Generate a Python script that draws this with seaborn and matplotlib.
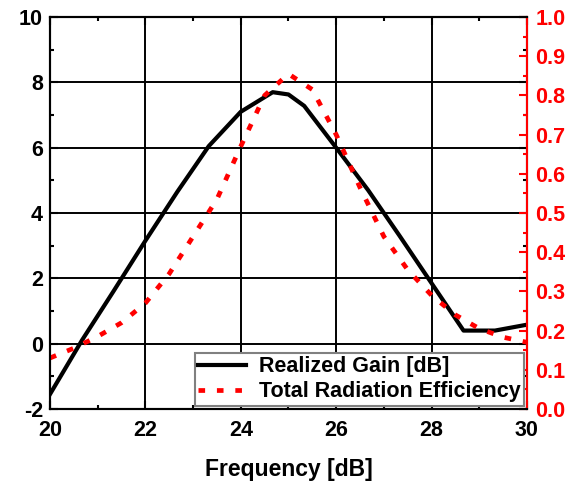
import pandas as pd
import matplotlib.pyplot as plt
import seaborn as sns
from matplotlib.ticker import MultipleLocator

plt.rcParams['font.family'] = ['Liberation Sans', 'DejaVu Sans']
plt.rcParams['font.weight'] = 'bold'
plt.rcParams['axes.unicode_minus'] = False

freq_gain = [20, 20.67, 21.33, 22, 22.67, 23.33, 24, 24.67, 25, 25.33, 26, 26.67, 27.33, 28, 28.67, 29.33, 30]
gain = [-1.55, 0.1, 1.6, 3.15, 4.65, 6.05, 7.1, 7.7, 7.63, 7.28, 6.0, 4.7, 3.3, 1.85, 0.4, 0.4, 0.58]

freq_eff = [20, 20.5, 21, 21.5, 22, 22.5, 23, 23.5, 24, 24.5, 25, 25.5, 26, 26.5, 27, 27.5, 28, 28.5, 29, 29.5, 30]
eff = [0.13, 0.155, 0.185, 0.22, 0.27, 0.345, 0.44, 0.535, 0.67, 0.80, 0.855, 0.815, 0.70, 0.565, 0.44, 0.355, 0.29, 0.24, 0.205, 0.183, 0.17]

df_gain = pd.DataFrame({'Frequency': freq_gain, 'Gain': gain})
df_eff = pd.DataFrame({'Frequency': freq_eff, 'Efficiency': eff})

fig = plt.figure(figsize=(5.81, 4.88), dpi=100)
ax = fig.add_axes([0.086, 0.162, 0.821, 0.803])
ax2 = ax.twinx()

sns.lineplot(data=df_gain, x='Frequency', y='Gain', ax=ax, color='black', lw=3, label='Realized Gain [dB]', legend=False)
sns.lineplot(data=df_eff, x='Frequency', y='Efficiency', ax=ax2, color='red', lw=3.4, linestyle=(0, (1.4, 2.5)),
             label='Total Radiation Efficiency', legend=False)

ax.set_xlim(20, 30)
ax.set_ylim(-2, 10)
ax2.set_ylim(0, 1.0)

ax.xaxis.set_major_locator(MultipleLocator(2))
ax.xaxis.set_minor_locator(MultipleLocator(1))
ax.yaxis.set_major_locator(MultipleLocator(2))
ax.yaxis.set_minor_locator(MultipleLocator(1))
ax2.yaxis.set_major_locator(MultipleLocator(0.1))
ax2.yaxis.set_minor_locator(MultipleLocator(0.05))
ax2.yaxis.set_major_formatter(plt.FormatStrFormatter('%.1f'))

ax.grid(True, which='major', color='black', lw=1.4)
ax.tick_params(which='both', direction='in', top=True, right=True, width=1.5, labelsize=15.5)
ax.tick_params(which='major', length=6)
ax.tick_params(which='minor', length=3)
ax.tick_params(axis='x', pad=8)
ax.tick_params(axis='y', pad=5)
ax2.tick_params(which='both', direction='in', colors='red', width=1.5, labelsize=15.5, pad=6)
ax2.tick_params(which='major', length=6)
ax2.tick_params(which='minor', length=3)

for s in ax.spines.values():
    s.set_linewidth(1.5)
for s in ax2.spines.values():
    s.set_linewidth(1.5)
ax2.spines['right'].set_color('red')

ax.set_xlabel('Frequency [dB]', fontsize=16.5, fontweight='bold', labelpad=12)
ax.set_ylabel('')
ax2.set_ylabel('')

h1, l1 = ax.get_legend_handles_labels()
h2, l2 = ax2.get_legend_handles_labels()
leg = ax2.legend(h1 + h2, l1 + l2, loc='lower right', fontsize=15.5, frameon=True, fancybox=False,
                 edgecolor='gray', framealpha=1, borderaxespad=0.15, handlelength=2.2,
                 borderpad=0.15, labelspacing=0.2, handletextpad=0.6)
leg.get_frame().set_linewidth(1.5)

fig.savefig('out.png', dpi=100)
